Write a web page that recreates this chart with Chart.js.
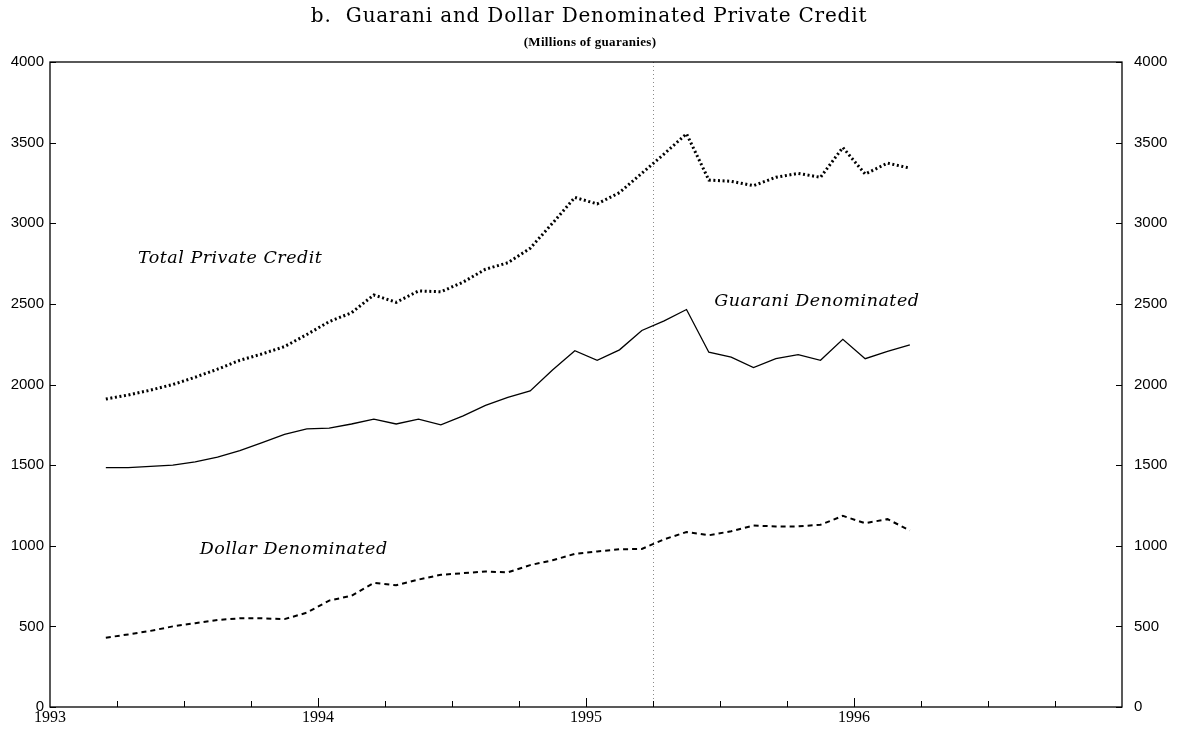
<!DOCTYPE html>
<html><head><meta charset="utf-8">
<script src="https://cdn.jsdelivr.net/npm/chart.js@4.4.1/dist/chart.umd.min.js"></script>
<style>html,body{margin:0;padding:0;background:#fff;}#wrap{width:1177px;height:732px;position:relative;}</style>
</head><body><div id="wrap"><canvas id="c" width="1177" height="732"></canvas></div>
<script>
// ---- data (millions of guaranies), monthly, Mar 1993 - Mar 1996 ----
const months = ["1993-03","1993-04","1993-05","1993-06","1993-07","1993-08","1993-09","1993-10","1993-11","1993-12",
  "1994-01","1994-02","1994-03","1994-04","1994-05","1994-06","1994-07","1994-08","1994-09","1994-10","1994-11","1994-12",
  "1995-01","1995-02","1995-03","1995-04","1995-05","1995-06","1995-07","1995-08","1995-09","1995-10","1995-11","1995-12",
  "1996-01","1996-02","1996-03"];
const totalCredit = [1910,1935,1965,2000,2045,2095,2150,2190,2235,2310,
  2390,2445,2555,2510,2580,2575,2635,2715,2755,2845,3000,3160,
  3120,3190,3310,3430,3555,3268,3260,3233,3285,3309,3285,3470,
  3305,3373,3342];
const guaraniDenominated = [1485,1485,1492,1500,1520,1550,1590,1640,1690,1725,
  1730,1755,1785,1755,1785,1750,1805,1870,1920,1960,2090,2210,
  2150,2215,2335,2395,2465,2200,2170,2105,2160,2185,2150,2280,
  2160,2205,2245];
const dollarDenominated = [430,450,472,500,520,540,550,550,545,585,
  660,690,770,755,790,820,830,840,835,880,910,950,
  965,978,980,1040,1085,1065,1090,1125,1120,1120,1130,1185,
  1140,1165,1095];
const yTickValues = [0,500,1000,1500,2000,2500,3000,3500,4000];
const yearLabels = [1993,1994,1995,1996];
const xMin = 1993, xMax = 1997;
const markerDate = 1995.25;
const titleText = "b.  Guarani and Dollar Denominated Private Credit";
const subtitleText = "(Millions of guaranies)";
const seriesLabels = [
  {text:"Total Private Credit", x:1993.328, y:2784},
  {text:"Guarani Denominated", x:1995.479, y:2512},
  {text:"Dollar Denominated", x:1993.559, y:980}
];

function toYear(m){ const [y,mo]=m.split("-").map(Number); return y + (mo-0.5)/12; }
function pts(arr){ return arr.map((v,i)=>({x:toYear(months[i]), y:v})); }

const decor = {
  id:'decor',
  beforeDatasetsDraw(chart){
    const {ctx, chartArea:a, scales:{x}} = chart;
    ctx.save();
    const mx = Math.round(x.getPixelForValue(markerDate))+0.5;
    ctx.strokeStyle = '#8a8a8a'; ctx.lineWidth = 1; ctx.setLineDash([1,3]);
    ctx.beginPath(); ctx.moveTo(mx, a.top); ctx.lineTo(mx, a.bottom); ctx.stroke();
    ctx.restore();
  },
  afterDraw(chart){
    const {ctx, chartArea:a, scales:{x,y}} = chart;
    ctx.save();
    ctx.strokeStyle = '#000'; ctx.lineWidth = 1.3; ctx.setLineDash([]);
    ctx.strokeRect(a.left, a.top, a.right-a.left, a.bottom-a.top);
    ctx.lineWidth = 1;
    for (let q = xMin*4+1; q < xMax*4; q++){
      const v = q/4, px = Math.round(x.getPixelForValue(v))+0.5;
      const len = (q%4===0) ? 9 : 6;
      ctx.beginPath(); ctx.moveTo(px, a.bottom); ctx.lineTo(px, a.bottom-len); ctx.stroke();
    }
    yTickValues.forEach(v=>{
      const py = Math.round(y.getPixelForValue(v))+0.5;
      ctx.beginPath(); ctx.moveTo(a.left, py); ctx.lineTo(a.left+6, py); ctx.stroke();
      ctx.beginPath(); ctx.moveTo(a.right, py); ctx.lineTo(a.right-6, py); ctx.stroke();
    });
    ctx.fillStyle = '#000'; ctx.textAlign = 'center'; ctx.textBaseline = 'middle';
    ctx.font = '20px "DejaVu Serif"';
    ctx.letterSpacing = '0.8px';
    ctx.fillText(titleText, 589, 17);
    ctx.letterSpacing = '0.3px';
    ctx.font = 'bold 13px "Liberation Serif"';
    ctx.fillText(subtitleText, 590, 43);
    ctx.font = 'italic 17.5px "DejaVu Serif"'; ctx.textAlign = 'left';
    ctx.letterSpacing = '0.5px';
    seriesLabels.forEach(l=>{
      ctx.fillText(l.text, x.getPixelForValue(l.x), y.getPixelForValue(l.y));
    });
    ctx.restore();
  }
};

const tickFont = {family:'"Liberation Sans", Arial, sans-serif', size:15};
new Chart(document.getElementById('c'), {
  type:'line',
  data:{ datasets:[
    {label:'Total Private Credit', data:pts(totalCredit), borderColor:'#000', borderWidth:3, borderDash:[2,2.6], pointRadius:0, tension:0, fill:false},
    {label:'Guarani Denominated', data:pts(guaraniDenominated), borderColor:'#000', borderWidth:1.3, pointRadius:0, tension:0, fill:false},
    {label:'Dollar Denominated', data:pts(dollarDenominated), borderColor:'#000', borderWidth:2, borderDash:[5,4], pointRadius:0, tension:0, fill:false}
  ]},
  options:{
    responsive:false, animation:false, devicePixelRatio:1,
    layout:{padding:{top:62, left:0, right:0, bottom:0}},
    plugins:{legend:{display:false}, tooltip:{enabled:false}, title:{display:false}},
    scales:{
      x:{type:'linear', min:xMin, max:xMax,
        afterBuildTicks(s){ s.ticks = yearLabels.map(v=>({value:v})); },
        ticks:{callback:v=>String(v), font:{family:'"Liberation Serif", serif', size:16}, color:'#000', padding:1, maxRotation:0, autoSkip:false},
        grid:{display:false, drawTicks:false}, border:{display:false},
        afterFit(s){ s.height = 25; }},
      y:{position:'left', min:0, max:4000,
        afterBuildTicks(s){ s.ticks = yTickValues.map(v=>({value:v})); },
        ticks:{callback:v=>String(v), font:tickFont, color:'#000', padding:6},
        grid:{display:false, drawTicks:false}, border:{display:false},
        afterFit(s){ s.width = 50; }},
      y2:{position:'right', min:0, max:4000,
        afterBuildTicks(s){ s.ticks = yTickValues.map(v=>({value:v})); },
        ticks:{callback:v=>String(v), font:tickFont, color:'#000', padding:12},
        grid:{display:false, drawTicks:false}, border:{display:false},
        afterFit(s){ s.width = 55; }}
    }
  },
  plugins:[decor]
});
</script></body></html>
